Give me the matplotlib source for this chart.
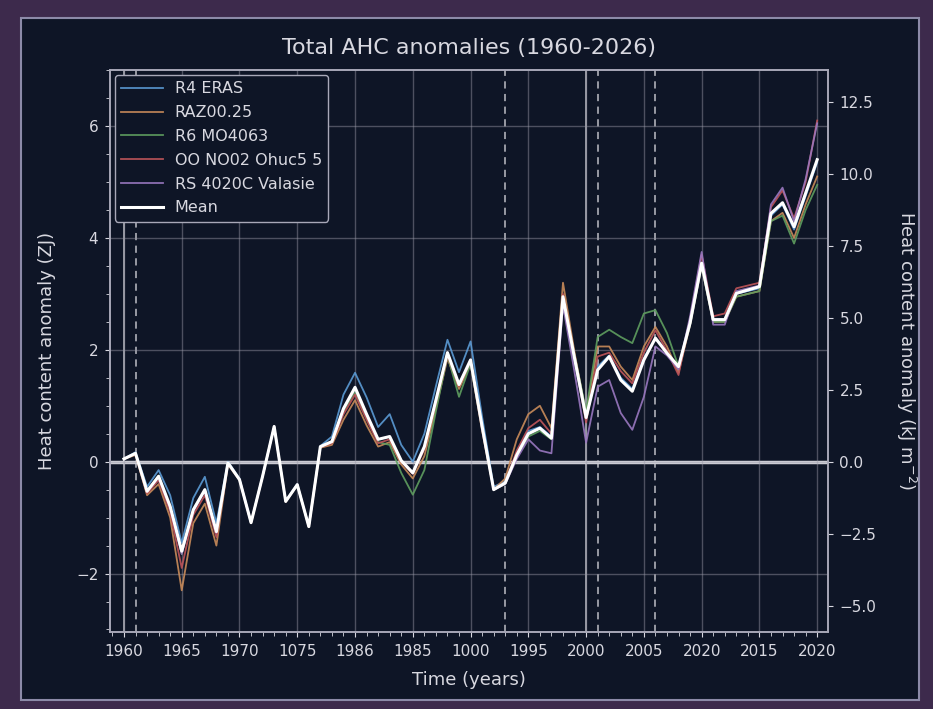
import numpy as np
import matplotlib
matplotlib.use("Agg")
import matplotlib.pyplot as plt
from matplotlib.patches import Rectangle
from matplotlib.ticker import MultipleLocator

# yearly values, 1960-2020 (ZJ)
years = np.arange(1960, 2021)

r4_eras = [0.05, 0.17, -0.45, -0.15, -0.6, -1.45, -0.65, -0.27, -1.1, 0.0,
           -0.3, -1.08, -0.25, 0.63, -0.7, -0.4, -1.15, 0.28, 0.45, 1.2,
           1.59, 1.15, 0.62, 0.85, 0.3, 0.0, 0.5, 1.35, 2.18, 1.6,
           2.15, 0.8, -0.45, -0.35, 0.15, 0.55, 0.62, 0.45, 2.9, 1.8,
           0.75, 1.7, 1.9, 1.5, 1.3, 1.85, 2.2, 1.95, 1.7, 2.5,
           3.55, 2.55, 2.55, 3.0, 3.05, 3.1, 4.4, 4.6, 4.15, 4.75, 5.35]

raz00 = [0.05, 0.12, -0.6, -0.4, -1.0, -2.3, -1.1, -0.75, -1.5, -0.05,
         -0.33, -1.1, -0.27, 0.62, -0.72, -0.42, -1.17, 0.25, 0.3, 0.75,
         1.1, 0.65, 0.27, 0.35, -0.05, -0.3, 0.1, 0.95, 1.85, 1.3,
         1.75, 0.55, -0.5, -0.3, 0.4, 0.85, 1.0, 0.6, 3.2, 1.95,
         0.85, 2.06, 2.06, 1.7, 1.46, 2.06, 2.41, 2.06, 1.59, 2.45,
         3.5, 2.5, 2.5, 2.95, 3.0, 3.05, 4.3, 4.45, 4.0, 4.6, 5.1]

r6_mo = [0.05, 0.15, -0.52, -0.25, -0.8, -1.65, -0.85, -0.5, -1.25, -0.02,
         -0.32, -1.09, -0.26, 0.63, -0.71, -0.41, -1.16, 0.27, 0.35, 0.9,
         1.25, 0.8, 0.35, 0.3, -0.2, -0.59, -0.15, 0.9, 1.9, 1.16,
         1.75, 0.6, -0.5, -0.4, 0.1, 0.45, 0.55, 0.4, 2.9, 1.9,
         0.9, 2.23, 2.36, 2.23, 2.12, 2.65, 2.71, 2.3, 1.7, 2.45,
         3.5, 2.5, 2.5, 2.95, 3.0, 3.05, 4.3, 4.4, 3.9, 4.5, 4.95]

oo_no02 = [0.05, 0.14, -0.57, -0.33, -0.9, -1.9, -0.95, -0.6, -1.35, -0.03,
           -0.32, -1.09, -0.26, 0.63, -0.71, -0.41, -1.16, 0.26, 0.33, 0.85,
           1.2, 0.75, 0.33, 0.4, 0.0, -0.22, 0.22, 1.05, 1.9, 1.35,
           1.8, 0.6, -0.5, -0.38, 0.2, 0.6, 0.75, 0.5, 3.0, 1.85,
           0.7, 1.88, 1.95, 1.62, 1.4, 1.95, 2.35, 1.98, 1.55, 2.55,
           3.7, 2.6, 2.65, 3.1, 3.15, 3.2, 4.55, 4.85, 4.35, 5.0, 6.1]

rs_4020c = [0.05, 0.15, -0.53, -0.27, -0.82, -1.65, -0.88, -0.52, -1.27, -0.02,
            -0.32, -1.09, -0.26, 0.63, -0.71, -0.41, -1.16, 0.27, 0.36, 0.95,
            1.3, 0.85, 0.4, 0.45, 0.02, -0.2, 0.27, 1.1, 1.95, 1.38,
            1.8, 0.6, -0.5, -0.4, 0.05, 0.4, 0.2, 0.15, 2.8, 1.6,
            0.34, 1.34, 1.46, 0.87, 0.57, 1.16, 2.06, 1.9, 1.65, 2.6,
            3.75, 2.45, 2.45, 3.05, 3.1, 3.15, 4.6, 4.9, 4.3, 5.05, 6.05]

mean = [0.05, 0.15, -0.53, -0.26, -0.8, -1.6, -0.86, -0.5, -1.25, -0.02,
        -0.32, -1.09, -0.26, 0.63, -0.71, -0.41, -1.16, 0.27, 0.36, 0.95,
        1.33, 0.85, 0.4, 0.45, 0.02, -0.2, 0.27, 1.1, 1.95, 1.38,
        1.82, 0.63, -0.5, -0.38, 0.12, 0.5, 0.6, 0.42, 2.95, 1.85,
        0.79, 1.64, 1.88, 1.46, 1.26, 1.82, 2.21, 1.94, 1.7, 2.48,
        3.55, 2.54, 2.54, 3.01, 3.07, 3.13, 4.44, 4.63, 4.2, 4.8, 5.4]

labels = ["R4 ERAS", "RAZ00.25", "R6 MO4063", "OO NO02 Ohuc5 5",
          "RS 4020C Valasie"]
colors = ["#5b9bd5", "#c98b5a", "#5f9e5f", "#c0555a", "#9a78c0"]

xtick_pos = np.arange(1960, 2021, 5)
xtick_labels = ["1960", "1965", "1970", "1075", "1986", "1985", "1000",
                "1995", "2000", "2005", "2020", "2015", "2020"]
dashed_years = [1961, 1993, 2001, 2006]
solid_years = [1960, 2000]

bg = "#0e1526"
fg = "#d8d8e0"

fig = plt.figure(figsize=(9.33, 7.09), dpi=100, facecolor="#3d2a4c")
panel = Rectangle((0.023, 0.012), 0.962, 0.963, transform=fig.transFigure,
                  facecolor=bg, edgecolor="#8c8aa8", lw=1.5, zorder=-10)
fig.patches.append(panel)

ax = fig.add_axes([0.118, 0.109, 0.769, 0.792])
ax.set_facecolor(bg)

for y in solid_years:
    ax.axvline(y, color="#c8c8d0", lw=1.3, alpha=0.8, zorder=1)
for y in dashed_years:
    ax.axvline(y, color="#c8c8d0", lw=1.3, ls=(0, (4, 3)), alpha=0.8, zorder=1)
ax.axhline(0, color="#d0d0d8", lw=2.5, zorder=1)

series = [r4_eras, raz00, r6_mo, oo_no02, rs_4020c]
for vals, lab, c in zip(series, labels, colors):
    ax.plot(years, vals, color=c, lw=1.3, alpha=0.9, label=lab, zorder=2)
ax.plot(years, mean, color="white", lw=2.2, label="Mean", zorder=3)

ax.set_xlim(1958.8, 2020.9)
ax.set_ylim(-3.04, 7.0)
ax.set_xticks(xtick_pos)
ax.set_xticklabels(xtick_labels)
ax.xaxis.set_minor_locator(MultipleLocator(1))
ax.set_yticks([-2, 0, 2, 4, 6])
ax.yaxis.set_minor_locator(MultipleLocator(0.5))
ax.grid(True, color="#9a9aa8", alpha=0.45, lw=1)

for s in ax.spines.values():
    s.set_color("#a8a8b8")
    s.set_linewidth(1.2)
ax.tick_params(colors=fg, labelsize=11, which="both", pad=5)
ax.tick_params(which="minor", length=3)

ax.set_title("Total AHC anomalies (1960-2026)", color=fg, fontsize=16, pad=12)
ax.set_xlabel("Time (years)", color=fg, fontsize=13, labelpad=9)
ax.set_ylabel("Heat content anomaly (ZJ)", color=fg, fontsize=13, labelpad=14)

k = 56 / 28.8
ax2 = ax.twinx()
ax2.set_ylim(-3.04 * k, 7.0 * k)
ax2.set_yticks([-5.0, -2.5, 0.0, 2.5, 5.0, 7.5, 10.0, 12.5])
ax2.tick_params(colors=fg, labelsize=11, pad=5)
for s in ax2.spines.values():
    s.set_color("#a8a8b8")
    s.set_linewidth(1.2)
ax2.set_ylabel("Heat content anomaly (kJ m$^{-2}$)", color=fg, fontsize=13,
               rotation=270, labelpad=30)

leg = ax.legend(loc="upper left", fontsize=11.5, frameon=True, facecolor=bg,
                edgecolor="#a8a8b8", framealpha=1, borderaxespad=0.3,
                labelspacing=0.55, handlelength=2.6, handletextpad=0.75)
for t in leg.get_texts():
    t.set_color(fg)
leg.set_zorder(5)

fig.savefig("out.png", dpi=100, facecolor=fig.get_facecolor())
